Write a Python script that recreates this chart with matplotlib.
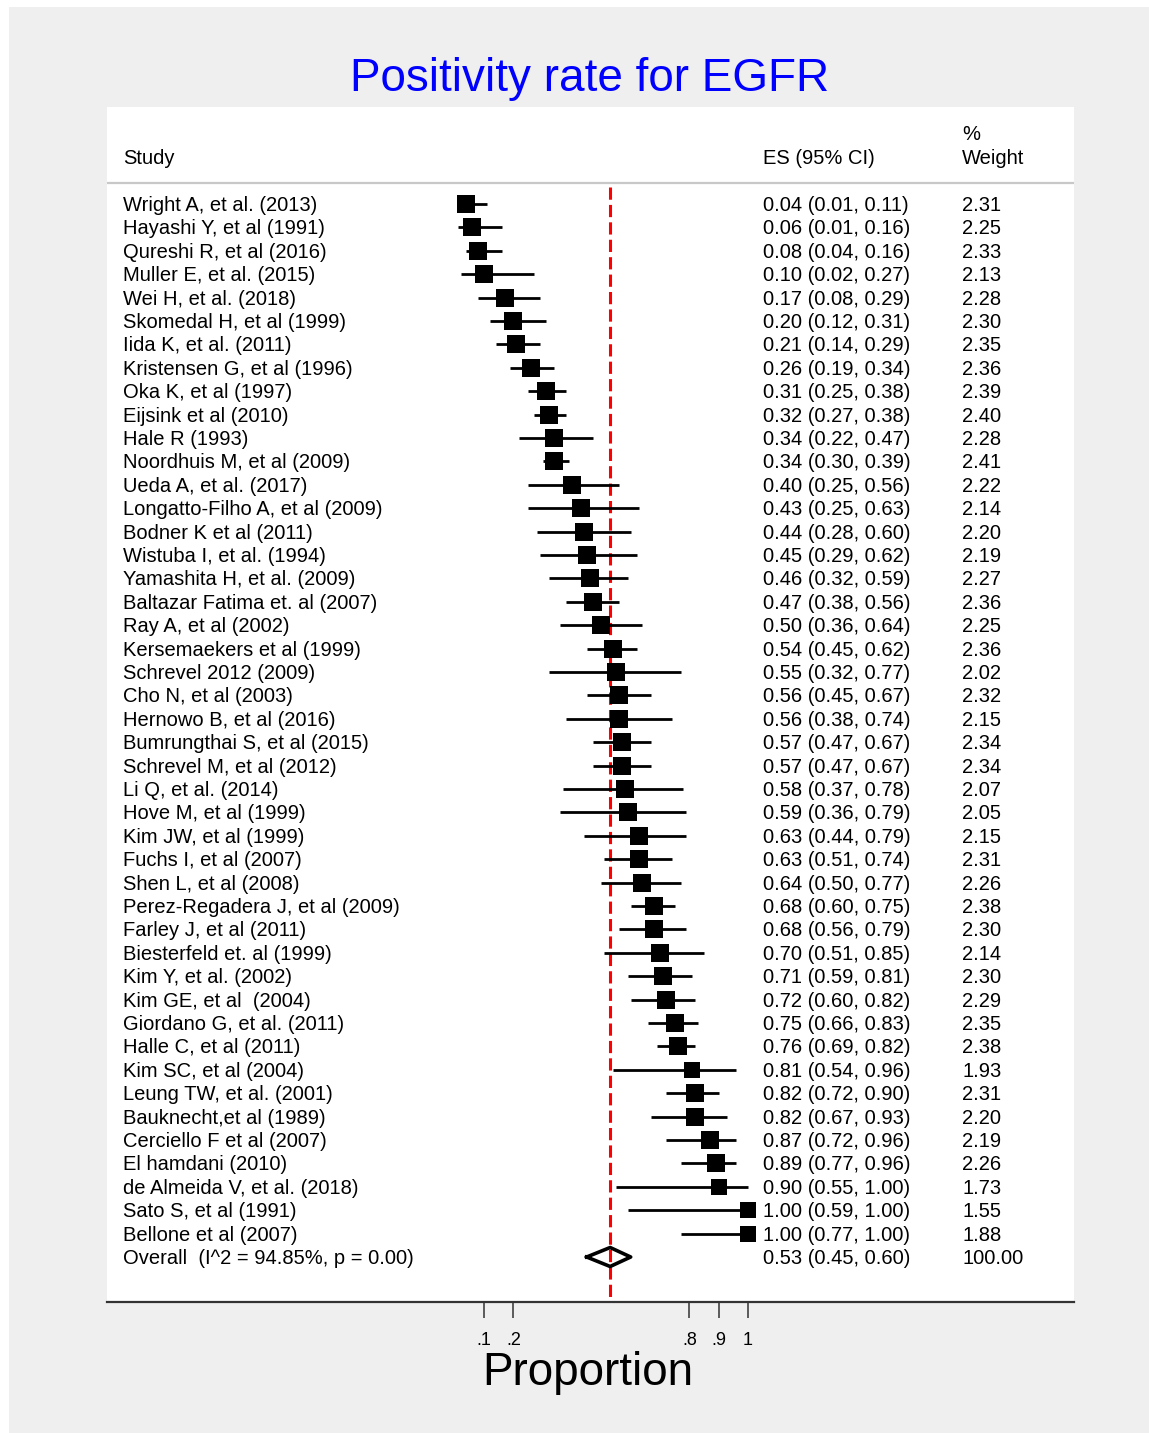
import matplotlib
matplotlib.use('Agg')
import matplotlib.pyplot as plt
import numpy as np
from matplotlib.patches import Rectangle

plt.rcParams['font.family'] = ['Liberation Sans', 'DejaVu Sans']

# ---------------- data ----------------
studies = [
    "Wright A, et al. (2013)", "Hayashi Y, et al (1991)", "Qureshi R, et al (2016)",
    "Muller E, et al. (2015)", "Wei H, et al. (2018)", "Skomedal H, et al (1999)",
    "Iida K, et al. (2011)", "Kristensen G, et al (1996)", "Oka K, et al (1997)",
    "Eijsink et al (2010)", "Hale R (1993)", "Noordhuis M, et al (2009)",
    "Ueda A, et al. (2017)", "Longatto-Filho A, et al (2009)", "Bodner K et al (2011)",
    "Wistuba I, et al. (1994)", "Yamashita H, et al. (2009)", "Baltazar Fatima et. al (2007)",
    "Ray A, et al (2002)", "Kersemaekers et al (1999)", "Schrevel 2012 (2009)",
    "Cho N, et al (2003)", "Hernowo B, et al (2016)", "Bumrungthai S, et al (2015)",
    "Schrevel M, et al (2012)", "Li Q, et al. (2014)", "Hove M, et al (1999)",
    "Kim JW, et al (1999)", "Fuchs I, et al (2007)", "Shen L, et al (2008)",
    "Perez-Regadera J, et al (2009)", "Farley J, et al (2011)", "Biesterfeld et. al (1999)",
    "Kim Y, et al. (2002)", "Kim GE, et al  (2004)", "Giordano G, et al. (2011)",
    "Halle C, et al (2011)", "Kim SC, et al (2004)", "Leung TW, et al. (2001)",
    "Bauknecht,et al (1989)", "Cerciello F et al (2007)", "El hamdani (2010)",
    "de Almeida V, et al. (2018)", "Sato S, et al (1991)", "Bellone et al (2007)",
]
es = [0.04, 0.06, 0.08, 0.10, 0.17, 0.20, 0.21, 0.26, 0.31, 0.32, 0.34, 0.34, 0.40, 0.43, 0.44,
      0.45, 0.46, 0.47, 0.50, 0.54, 0.55, 0.56, 0.56, 0.57, 0.57, 0.58, 0.59, 0.63, 0.63, 0.64,
      0.68, 0.68, 0.70, 0.71, 0.72, 0.75, 0.76, 0.81, 0.82, 0.82, 0.87, 0.89, 0.90, 1.00, 1.00]
ci_low = [0.01, 0.01, 0.04, 0.02, 0.08, 0.12, 0.14, 0.19, 0.25, 0.27, 0.22, 0.30, 0.25, 0.25, 0.28,
          0.29, 0.32, 0.38, 0.36, 0.45, 0.32, 0.45, 0.38, 0.47, 0.47, 0.37, 0.36, 0.44, 0.51, 0.50,
          0.60, 0.56, 0.51, 0.59, 0.60, 0.66, 0.69, 0.54, 0.72, 0.67, 0.72, 0.77, 0.55, 0.59, 0.77]
ci_high = [0.11, 0.16, 0.16, 0.27, 0.29, 0.31, 0.29, 0.34, 0.38, 0.38, 0.47, 0.39, 0.56, 0.63, 0.60,
           0.62, 0.59, 0.56, 0.64, 0.62, 0.77, 0.67, 0.74, 0.67, 0.67, 0.78, 0.79, 0.79, 0.74, 0.77,
           0.75, 0.79, 0.85, 0.81, 0.82, 0.83, 0.82, 0.96, 0.90, 0.93, 0.96, 0.96, 1.00, 1.00, 1.00]
weights = [2.31, 2.25, 2.33, 2.13, 2.28, 2.30, 2.35, 2.36, 2.39, 2.40, 2.28, 2.41, 2.22, 2.14, 2.20,
           2.19, 2.27, 2.36, 2.25, 2.36, 2.02, 2.32, 2.15, 2.34, 2.34, 2.07, 2.05, 2.15, 2.31, 2.26,
           2.38, 2.30, 2.14, 2.30, 2.29, 2.35, 2.38, 1.93, 2.31, 2.20, 2.19, 2.26, 1.73, 1.55, 1.88]
overall_es, overall_low, overall_high = 0.53, 0.45, 0.60
overall_i2, overall_p = 94.85, 0.00
overall_weight = 100.00
tick_values = [0.1, 0.2, 0.8, 0.9, 1.0]
tick_labels = [".1", ".2", ".8", ".9", "1"]
title = "Positivity rate for EGFR"
xlabel = "Proportion"

# ---------------- layout ----------------
W, H = 1149, 1433
fig = plt.figure(figsize=(W / 100, H / 100), dpi=100)
fig.patch.set_facecolor('white')
fig.patches.append(Rectangle((9 / W, 0), 1 - 9 / W, 1 - 7 / H, transform=fig.transFigure,
                             facecolor='#efefef', edgecolor='none', zorder=-10))

def fx(px):
    return px / W

def fy(py):
    return 1 - py / H

PL, PR, PT, PB = 107, 1074, 107, 1302
ax = fig.add_axes([fx(PL), fy(PB), (PR - PL) / W, (PB - PT) / H])
ax.set_facecolor('white')

x0px, upx = 454.7, 293.3
row0, rowh = 204.0, 23.4

def dx(px):
    return (px - x0px) / upx

def dy(py):
    return (py - row0) / rowh

ax.set_xlim(dx(PL), dx(PR))
ax.set_ylim(dy(PB), dy(PT))

for s in ['left', 'right', 'top']:
    ax.spines[s].set_visible(False)
ax.spines['bottom'].set_color('#333333')
ax.spines['bottom'].set_linewidth(1.6)
ax.set_yticks([])
ax.set_xticks(tick_values)
ax.set_xticklabels(tick_labels)
ax.tick_params(axis='x', direction='out', length=11.5, width=1.1, pad=10,
               labelsize=13, color='#333333')

n = len(studies)
rows = np.arange(n)
txt_fs = 14.5
base_off = 7 / rowh

# header
ax.axhline(dy(183), color='#c8c8c8', lw=1.6)
ax.text(dx(123), dy(164), "Study", fontsize=txt_fs, va='baseline', ha='left')
ax.text(dx(763), dy(164), "ES (95% CI)", fontsize=txt_fs, va='baseline', ha='left')
ax.text(dx(962), dy(140), "%", fontsize=txt_fs, va='baseline', ha='left')
ax.text(dx(962), dy(164), "Weight", fontsize=txt_fs, va='baseline', ha='left')

# reference line at overall estimate
ax.plot([overall_es, overall_es], [dy(187), dy(PB)], color='red', lw=2.2,
        linestyle=(0, (4, 1.7)), zorder=1)

# CIs and boxes
ax.hlines(rows, ci_low, ci_high, color='black', lw=2.0, zorder=3)
box_pt = 13.2
for r, e, w in zip(rows, es, weights):
    ax.plot([e], [r], marker='s', color='black', markersize=box_pt * np.sqrt(w / 2.31),
            markeredgewidth=0, zorder=4)

# study text
for r, s, e, lo, hi, w in zip(rows, studies, es, ci_low, ci_high, weights):
    ax.text(dx(123), r + base_off, s, fontsize=txt_fs, va='baseline', ha='left')
    ax.text(dx(763), r + base_off, f"{e:.2f} ({lo:.2f}, {hi:.2f})", fontsize=txt_fs,
            va='baseline', ha='left')
    ax.text(dx(962), r + base_off, f"{w:.2f}", fontsize=txt_fs, va='baseline', ha='left')

# overall
ro = n
hd = 9.5 / rowh
ax.plot([overall_low, overall_es, overall_high, overall_es, overall_low],
        [ro, ro - hd, ro, ro + hd, ro], color='black', lw=2.6, zorder=5,
        solid_joinstyle='round')
ax.text(dx(123), ro + base_off, f"Overall  (I^2 = {overall_i2:.2f}%, p = {overall_p:.2f})",
        fontsize=txt_fs, va='baseline', ha='left')
ax.text(dx(763), ro + base_off, f"{overall_es:.2f} ({overall_low:.2f}, {overall_high:.2f})",
        fontsize=txt_fs, va='baseline', ha='left')
ax.text(dx(962), ro + base_off, f"{overall_weight:.2f}", fontsize=txt_fs, va='baseline', ha='left')

# title and axis title
fig.text(fx(590), fy(91), title, color='#0000ff', fontsize=33, ha='center', va='baseline')
fig.text(fx(588), fy(1385), xlabel, color='black', fontsize=33, ha='center', va='baseline')

fig.savefig('out.png', dpi=100, facecolor=fig.get_facecolor())
